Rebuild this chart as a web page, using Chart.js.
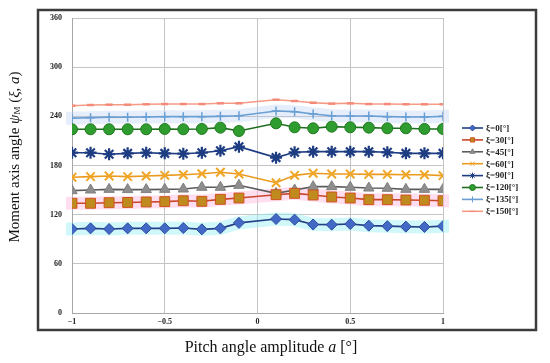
<!DOCTYPE html>
<html>
<head>
<meta charset="utf-8">
<script src="https://cdn.jsdelivr.net/npm/chart.js@4"></script>
<style>
    html, body { margin: 0; padding: 0; background: #fff; }
    #wrap { width: 550px; height: 363px; position: relative; }
</style>
</head>
<body>
<div id="wrap"><canvas id="chart"></canvas></div>
<script>
// pitch angle amplitude a [deg] (no point at 0)
const pitch = [-1, -0.9, -0.8, -0.7, -0.6, -0.5, -0.4, -0.3, -0.2, -0.1,
    0.1, 0.2, 0.3, 0.4, 0.5, 0.6, 0.7, 0.8, 0.9, 1];

// moment axis angle for each xi
const xi0 = [102.5, 103.3, 102.5, 103.3, 103.3, 103.3, 103.7, 102.1, 103.3, 110,
    114.7, 113.9, 108, 107.8, 108.6, 106.6, 106, 105.4, 105, 106];
const xi30 = [133.9, 133.9, 134.6, 134.9, 135.5, 135.9, 137, 136.3, 138.7, 140.3,
    144.4, 146, 144, 141.6, 140.3, 138.3, 138.3, 137.9, 137.6, 137];
const xi45 = [149.3, 150.1, 150.9, 150.6, 150.6, 150.9, 151.3, 153.4, 153.4, 155.8,
    146, 150.1, 154.2, 154.2, 153.4, 152.5, 152.2, 150.9, 150.9, 150.9];
const xi60 = [165.6, 166.4, 167.2, 166.4, 167.2, 168, 168.8, 170, 171.7, 169.6,
    159, 168, 170.5, 169.6, 169.6, 169.2, 169.2, 168.8, 168.8, 167.6];
const xi90 = [195.6, 195.6, 193.7, 194.8, 195.6, 194.8, 194.4, 195.6, 198, 203,
    189.6, 196.1, 196.9, 196.9, 196.9, 196.9, 196.1, 194.8, 194.8, 194.8];
const xi120 = [224.2, 224.2, 224.2, 224.2, 224.2, 224.6, 224.2, 224.6, 226.2, 222.1,
    231.5, 226.6, 225.4, 227.4, 226.6, 226.2, 225.4, 225.4, 224.6, 224.6];
const xi135 = [237.6, 238.4, 238.8, 238.8, 239.2, 239.6, 239.6, 239.6, 240, 240.8,
    246.5, 245.7, 242.9, 240.8, 240.4, 240.4, 239.6, 239.2, 239.2, 240];
const xi150 = [253, 253.8, 254.2, 254.2, 254.7, 255, 255, 255, 255.9, 255.9,
    260.3, 258.7, 256.6, 255.5, 255.9, 255, 255, 254.7, 254.7, 254.7];

const seriesNames = ['ξ=0[°]', 'ξ=30[°]', 'ξ=45[°]', 'ξ=60[°]', 'ξ=90[°]', 'ξ=120[°]', 'ξ=135[°]', 'ξ=150[°]'];
const yTicks = [0, 60, 120, 180, 240, 300, 360];
const xTicks = [-1, -0.5, 0, 0.5, 1];

const serif = "'Liberation Serif', 'DejaVu Serif', serif";

function pts(vals) {
    return pitch.map((p, i) => ({ x: p, y: vals[i] }));
}

function series(i, vals, st) {
    return Object.assign({
        label: seriesNames[i],
        data: pts(vals),
        borderWidth: 1.6,
        pointBorderWidth: 1,
        tension: 0
    }, st);
}

const datasets = [
    series(0, xi0, { borderColor: '#233f86', pointStyle: 'rectRot', pointRadius: 5.5,
        pointBackgroundColor: '#4369c6', pointBorderColor: '#2c4b9e', glow: 'rgba(150,238,245,0.45)' }),
    series(1, xi30, { borderColor: '#c8462a', pointStyle: 'rect', pointRadius: 7,
        pointBackgroundColor: '#bf8a1e', pointBorderColor: '#d0531f', glow: 'rgba(255,185,220,0.45)' }),
    series(2, xi45, { borderColor: '#5c5c5c', pointStyle: 'triangle', pointRadius: 6,
        pointBackgroundColor: '#8e8e8e', pointBorderColor: '#808080' }),
    series(3, xi60, { borderColor: '#eb9a1e', pointStyle: 'crossRot', pointRadius: 6,
        pointBorderWidth: 2, pointBackgroundColor: '#f0a626', pointBorderColor: '#f0a626' }),
    series(4, xi90, { borderColor: '#1d3c82', pointStyle: 'star', pointRadius: 6,
        pointBorderWidth: 2.2, pointBackgroundColor: '#1d3c82', pointBorderColor: '#1d3c82' }),
    series(5, xi120, { borderColor: '#1e6e1e', pointStyle: 'circle', pointRadius: 5.5,
        pointBackgroundColor: '#2f9c2f', pointBorderColor: '#1f7a1f' }),
    series(6, xi135, { borderColor: '#6a9fd4', pointStyle: 'cross', pointRadius: 4.5,
        pointBorderWidth: 1.5, pointBackgroundColor: '#6a9fd4', pointBorderColor: '#6a9fd4',
        glow: 'rgba(170,200,240,0.3)' }),
    series(7, xi150, { borderColor: '#f59a85', pointStyle: 'line', pointRadius: 3.5,
        pointBorderWidth: 2.5, pointBackgroundColor: '#f48a78', pointBorderColor: '#f48a78' })
];

// draws a row of text pieces (plain / italic / subscript) centred on cx
function drawRuns(ctx, runs, cx, cy, base) {
    const fontOf = r => (r.italic ? 'italic ' : '') + (r.size || base) + 'px ' + serif;
    let total = 0;
    runs.forEach(r => { ctx.font = fontOf(r); r.w = ctx.measureText(r.t).width; total += r.w; });
    let x = cx - total / 2;
    ctx.textAlign = 'left';
    ctx.textBaseline = 'middle';
    runs.forEach(r => {
        ctx.font = fontOf(r);
        ctx.fillText(r.t, x, cy + (r.dy || 0));
        x += r.w;
    });
}

// white page, outer frame, translucent glow under some lines
const framePlugin = {
    id: 'frame',
    beforeDraw(chart) {
        const ctx = chart.ctx;
        ctx.save();
        ctx.fillStyle = '#fff';
        ctx.fillRect(0, 0, chart.width, chart.height);
        ctx.restore();
    },
    beforeDatasetsDraw(chart) {
        const ctx = chart.ctx;
        chart.data.datasets.forEach((ds, i) => {
            if (!ds.glow) return;
            const meta = chart.getDatasetMeta(i);
            ctx.save();
            ctx.strokeStyle = ds.glow;
            ctx.lineWidth = 13;
            ctx.lineJoin = 'miter';
            ctx.lineCap = 'butt';
            ctx.beginPath();
            meta.data.forEach((pt, j) => {
                if (j === 0) ctx.moveTo(pt.x - 6, pt.y);
                ctx.lineTo(pt.x, pt.y);
            });
            const last = meta.data[meta.data.length - 1];
            ctx.lineTo(last.x + 6, last.y);
            ctx.stroke();
            ctx.restore();
        });
    },
    afterDraw(chart) {
        const ctx = chart.ctx;
        ctx.save();
        ctx.strokeStyle = '#3c3c3c';
        ctx.lineWidth = 2.5;
        ctx.strokeRect(38, 10, 498, 320);

        // axis titles
        ctx.fillStyle = '#111';
        drawRuns(ctx, [
            { t: 'Pitch angle amplitude ' },
            { t: 'a', italic: true },
            { t: ' [°]' }
        ], 271, 348, 16);

        ctx.translate(15, 157);
        ctx.rotate(-Math.PI / 2);
        drawRuns(ctx, [
            { t: 'Moment axis angle ' },
            { t: 'ψ', italic: true },
            { t: 'M', size: 9, dy: 3 },
            { t: ' (' },
            { t: 'ξ', italic: true },
            { t: ', ' },
            { t: 'a', italic: true },
            { t: ')' }
        ], 0, 0, 15);
        ctx.restore();

        // legend: line sample + marker + text
        ctx.save();
        ctx.font = 'bold 9px ' + serif;
        ctx.textBaseline = 'middle';
        chart.data.datasets.forEach((ds, i) => {
            const y = 128 + i * 11.9;
            ctx.strokeStyle = ds.borderColor;
            ctx.lineWidth = 1.6;
            ctx.beginPath();
            ctx.moveTo(462, y);
            ctx.lineTo(483, y);
            ctx.stroke();
            if (Chart.helpers && Chart.helpers.drawPoint) {
                ctx.fillStyle = ds.pointBackgroundColor;
                ctx.strokeStyle = ds.pointBorderColor;
                ctx.lineWidth = 1;
                Chart.helpers.drawPoint(ctx, {
                    pointStyle: ds.pointStyle,
                    radius: Math.min(ds.pointRadius, 4) * 0.75,
                    rotation: 0,
                    borderWidth: 1
                }, 472.5, y);
            }
            ctx.fillStyle = '#222';
            ctx.textAlign = 'left';
            ctx.fillText(ds.label, 486, y + 0.5);
        });
        ctx.restore();
    }
};

new Chart(document.getElementById('chart'), {
    type: 'line',
    data: { datasets: datasets },
    options: {
        responsive: true,
        maintainAspectRatio: false,
        animation: false,
        layout: { padding: { top: 18, right: 107, left: 0, bottom: 0 } },
        plugins: {
            legend: { display: false },
            tooltip: { enabled: false }
        },
        scales: {
            x: {
                type: 'linear',
                min: -1,
                max: 1,
                afterBuildTicks(scale) {
                    scale.ticks = xTicks.map(v => ({ value: v }));
                },
                afterFit(scale) { scale.height = 50; },
                ticks: {
                    padding: 4,
                    color: '#222',
                    font: { family: serif, size: 8, weight: 'bold' },
                    callback: v => (v < 0 ? '−' + Math.abs(v) : String(v))
                },
                grid: { color: '#c4c4c4', lineWidth: 1, drawTicks: false },
                border: { color: '#a8a8a8' }
            },
            y: {
                min: 0,
                max: 360,
                afterBuildTicks(scale) {
                    scale.ticks = yTicks.map(v => ({ value: v }));
                },
                afterFit(scale) { scale.width = 72; },
                ticks: {
                    padding: 10,
                    color: '#222',
                    font: { family: serif, size: 8, weight: 'bold' }
                },
                grid: { color: '#c4c4c4', lineWidth: 1, drawTicks: false },
                border: { color: '#a8a8a8' }
            }
        }
    },
    plugins: [framePlugin]
});
</script>
</body>
</html>
